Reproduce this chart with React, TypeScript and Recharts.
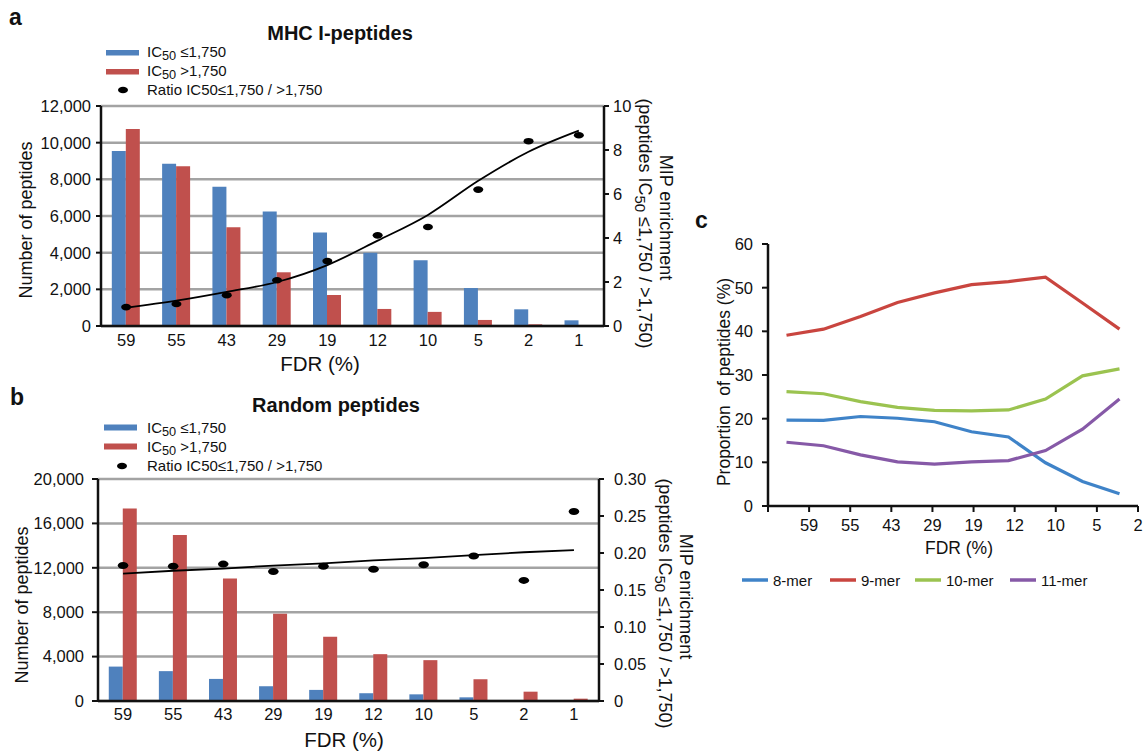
import React from 'react';
import { ComposedChart, LineChart, Bar, Line, XAxis, YAxis, CartesianGrid } from 'recharts';

// ---------- data ----------
const fdrLabels = ['59', '55', '43', '29', '19', '12', '10', '5', '2', '1'];
const edgeTicks = [0, 1, 2, 3, 4, 5, 6, 7, 8, 9, 10];

// panel a: MHC I-peptides
const mhcLow = [9550, 8850, 7600, 6250, 5100, 4000, 3580, 2070, 910, 310];
const mhcHigh = [10750, 8710, 5380, 2930, 1690, 930, 770, 330, 90, 20];
const mhcRatio = [0.86, 1.0, 1.4, 2.08, 2.95, 4.12, 4.5, 6.2, 8.4, 8.67];
const mhcTrend = [0.83, 1.15, 1.55, 2.0, 2.77, 3.88, 5.05, 6.6, 7.92, 8.88];
const mhcLeftTicks = [0, 2000, 4000, 6000, 8000, 10000, 12000];
const mhcRightTicks = [0, 2, 4, 6, 8, 10];

// panel b: Random peptides
const randLow = [3100, 2690, 1990, 1330, 1000, 700, 600, 330, 80, 30];
const randHigh = [17350, 14960, 11040, 7870, 5790, 4220, 3680, 1960, 840, 210];
const randRatio = [0.183, 0.182, 0.185, 0.175, 0.182, 0.178, 0.184, 0.196, 0.163, 0.256];
const randTrend = [0.172, 0.176, 0.179, 0.183, 0.186, 0.19, 0.193, 0.197, 0.201, 0.204];
const randLeftTicks = [0, 4000, 8000, 12000, 16000, 20000];
const randRightTicks = [0, 0.05, 0.1, 0.15, 0.2, 0.25, 0.3];

// panel c: peptide length proportions
const mer8 = [19.65, 19.6, 20.5, 20.1, 19.3, 17.0, 15.8, 9.9, 5.6, 2.8];
const mer9 = [39.1, 40.5, 43.4, 46.6, 48.8, 50.7, 51.4, 52.4, 46.5, 40.5];
const mer10 = [26.2, 25.7, 23.9, 22.6, 21.9, 21.8, 22.0, 24.5, 29.8, 31.4];
const mer11 = [14.6, 13.8, 11.7, 10.1, 9.6, 10.1, 10.4, 12.7, 17.6, 24.5];
const propTicks = [0, 10, 20, 30, 40, 50, 60];

const dataA = fdrLabels.map((f, i) => ({ fdr: f, low: mhcLow[i], high: mhcHigh[i], ratio: mhcRatio[i], trend: mhcTrend[i] }));
const dataB = fdrLabels.map((f, i) => ({ fdr: f, low: randLow[i], high: randHigh[i], ratio: randRatio[i], trend: randTrend[i] }));
const dataC = fdrLabels.map((f, i) => ({ fdr: f, m8: mer8[i], m9: mer9[i], m10: mer10[i], m11: mer11[i] }));

// ---------- styles ----------
const FONT = '"Liberation Sans", Arial, Helvetica, sans-serif';
const BLUE = '#4F81BD';
const RED = '#C0504D';
const C8 = '#3F83C8';
const C9 = '#C9453F';
const C10 = '#9BC350';
const C11 = '#8659A7';
const AXIS = '#111';
const GRID = '#a3a3a3';
const tickStyle = { fontSize: 16.5, fill: '#111', fontFamily: FONT };
const axisLine = { stroke: AXIS, strokeWidth: 2.5 };
const tickLine = { stroke: AXIS, strokeWidth: 2 };

const fmtThousands = (v: number) => v.toLocaleString('en-US');
const fmtRatio = (v: number) => (v === 0 ? '0' : v.toFixed(2));

const makeDot = (rx: number, ry: number) => (p: any) => {
  if (p.cx == null || p.cy == null) return <g key={`e${p.index}`} />;
  return <ellipse key={`d${p.index}`} cx={p.cx} cy={p.cy} rx={rx} ry={ry} fill="#000" />;
};

type BarPanelProps = {
  data: any[];
  top: number;
  height: number;
  margin: { top: number; right: number; bottom: number; left: number };
  leftDomain: number[];
  leftTicks: number[];
  rightDomain: number[];
  rightTicks: number[];
  rightFmt: (v: number) => string;
  leftTickSize: number;
  leftTickMargin: number;
  rightTickSize: number;
  rightTickMargin: number;
  trendType: 'monotone' | 'linear';
  dotRx: number;
  dotRy: number;
  xTickMargin: number;
};

function BarPanel(p: BarPanelProps) {
  return (
    <div style={{ position: 'absolute', left: 0, top: p.top }}>
      <ComposedChart
        width={700}
        height={p.height}
        data={p.data}
        margin={p.margin}
        barCategoryGap="21.5%"
        barGap={0}
        style={{ fontFamily: FONT }}
      >
        <CartesianGrid yAxisId="left" vertical={false} stroke={GRID} strokeWidth={2.5} />
        <XAxis
          xAxisId="edges"
          type="number"
          domain={[0, 10]}
          ticks={edgeTicks}
          allowDataOverflow
          tick={false}
          axisLine={false}
          tickLine={tickLine}
          tickSize={4}
          height={0}
        />
        <XAxis
          dataKey="fdr"
          interval={0}
          tick={tickStyle}
          tickLine={false}
          tickSize={0}
          tickMargin={p.xTickMargin}
          axisLine={axisLine}
          height={1}
        />
        <YAxis
          yAxisId="left"
          domain={p.leftDomain}
          ticks={p.leftTicks}
          tickFormatter={fmtThousands}
          tick={tickStyle}
          tickSize={p.leftTickSize}
          tickMargin={p.leftTickMargin}
          axisLine={axisLine}
          tickLine={tickLine}
          width={55}
          interval={0}
        />
        <YAxis
          yAxisId="right"
          orientation="right"
          domain={p.rightDomain}
          ticks={p.rightTicks}
          tickFormatter={p.rightFmt}
          tick={tickStyle}
          tickSize={p.rightTickSize}
          tickMargin={p.rightTickMargin}
          axisLine={axisLine}
          tickLine={tickLine}
          width={50}
          interval={0}
        />
        <Bar yAxisId="left" dataKey="low" fill={BLUE} isAnimationActive={false} />
        <Bar yAxisId="left" dataKey="high" fill={RED} isAnimationActive={false} />
        <Line
          yAxisId="right"
          dataKey="trend"
          type={p.trendType}
          stroke="#000"
          strokeWidth={1.8}
          dot={false}
          activeDot={false}
          isAnimationActive={false}
        />
        <Line
          yAxisId="right"
          dataKey="ratio"
          stroke="none"
          dot={makeDot(p.dotRx, p.dotRy)}
          activeDot={false}
          isAnimationActive={false}
        />
      </ComposedChart>
    </div>
  );
}

function PanelC() {
  return (
    <div style={{ position: 'absolute', left: 700, top: 200 }}>
      <LineChart
        width={445}
        height={400}
        data={dataC}
        margin={{ top: 44, right: 7, bottom: 93, left: 8 }}
        style={{ fontFamily: FONT }}
      >
        <XAxis dataKey="fdr" hide height={0} padding={{ left: 18.5, right: 18.5 }} />
        <XAxis
          xAxisId="lab"
          type="number"
          domain={[0, 10]}
          ticks={edgeTicks}
          allowDataOverflow
          interval={0}
          tickFormatter={(i: number) => (i === 0 ? '' : fdrLabels[i - 1])}
          tick={tickStyle}
          tickSize={6}
          tickMargin={7}
          axisLine={axisLine}
          tickLine={tickLine}
          height={1}
        />
        <YAxis
          domain={[0, 60]}
          ticks={propTicks}
          interval={0}
          tick={tickStyle}
          tickSize={6}
          tickMargin={9}
          axisLine={axisLine}
          tickLine={tickLine}
          width={60}
        />
        <Line dataKey="m8" type="linear" stroke={C8} strokeWidth={3.2} dot={false} activeDot={false} isAnimationActive={false} />
        <Line dataKey="m9" type="linear" stroke={C9} strokeWidth={3.2} dot={false} activeDot={false} isAnimationActive={false} />
        <Line dataKey="m10" type="linear" stroke={C10} strokeWidth={3.2} dot={false} activeDot={false} isAnimationActive={false} />
        <Line dataKey="m11" type="linear" stroke={C11} strokeWidth={3.2} dot={false} activeDot={false} isAnimationActive={false} />
      </LineChart>
    </div>
  );
}

function IC50({ x, y, rest, size = 15 }: { x: number; y: number; rest: string; size?: number }) {
  return (
    <text x={x} y={y} fontSize={size} fill="#111">
      IC<tspan fontSize={size * 0.85} dy={3}>50</tspan>
      <tspan dy={-3}>{rest}</tspan>
    </text>
  );
}

function Overlay() {
  const legC = [
    { name: '8-mer', color: C8, x: 742 },
    { name: '9-mer', color: C9, x: 830 },
    { name: '10-mer', color: C10, x: 915 },
    { name: '11-mer', color: C11, x: 1010 },
  ];
  const legY = 580;
  return (
    <svg
      width={1145}
      height={753}
      style={{ position: 'absolute', left: 0, top: 0, pointerEvents: 'none', fontFamily: FONT }}
    >
      {/* panel letters */}
      <text x={9} y={25} fontSize={23} fontWeight="bold" fill="#111">a</text>
      <text x={10} y={405} fontSize={23} fontWeight="bold" fill="#111">b</text>
      <text x={695} y={228} fontSize={23} fontWeight="bold" fill="#111">c</text>

      {/* titles */}
      <text x={340} y={40} fontSize={20} fontWeight="bold" textAnchor="middle" fill="#111">MHC I-peptides</text>
      <text x={336} y={412} fontSize={20} fontWeight="bold" textAnchor="middle" fill="#111">Random peptides</text>

      {/* legend a */}
      <rect x={106} y={50} width={33} height={5.5} fill={BLUE} />
      <IC50 x={147} y={57} rest=" ≤1,750" />
      <rect x={106} y={69} width={33} height={5.5} fill={RED} />
      <IC50 x={147} y={76} rest=" >1,750" />
      <ellipse cx={123} cy={90} rx={5} ry={3.3} fill="#000" />
      <text x={147} y={95} fontSize={15} fill="#111">Ratio IC50≤1,750 / &gt;1,750</text>

      {/* legend b */}
      <rect x={104} y={424.5} width={33} height={6} fill={BLUE} />
      <IC50 x={147} y={433} rest=" ≤1,750" />
      <rect x={104} y={443.5} width={33} height={6} fill={RED} />
      <IC50 x={147} y={452} rest=" >1,750" />
      <ellipse cx={122} cy={466} rx={5} ry={3.3} fill="#000" />
      <text x={147} y={471} fontSize={15} fill="#111">Ratio IC50≤1,750 / &gt;1,750</text>

      {/* axis titles a */}
      <text x={26} y={220} fontSize={18} textAnchor="middle" dominantBaseline="central" transform="rotate(-90 26 220)" fill="#111">Number of peptides</text>
      <text x={320} y={371} fontSize={20.5} textAnchor="middle" fill="#111">FDR (%)</text>
      <text x={665.5} y={217.5} fontSize={18} textAnchor="middle" dominantBaseline="central" transform="rotate(90 665.5 217.5)" fill="#111">MIP enrichment</text>
      <text x={644.5} y={223.5} fontSize={18} textAnchor="middle" dominantBaseline="central" transform="rotate(90 644.5 223.5)" fill="#111">
        (peptides IC<tspan fontSize={15} dy={4}>50</tspan><tspan dy={-4}> ≤1,750 / &gt;1,750)</tspan>
      </text>

      {/* axis titles b */}
      <text x={22} y={605} fontSize={18} textAnchor="middle" dominantBaseline="central" transform="rotate(-90 22 605)" fill="#111">Number of peptides</text>
      <text x={344} y={747} fontSize={20.5} textAnchor="middle" fill="#111">FDR (%)</text>
      <text x={686} y={596.5} fontSize={18} textAnchor="middle" dominantBaseline="central" transform="rotate(90 686 596.5)" fill="#111">MIP enrichment</text>
      <text x={664.5} y={603.5} fontSize={18} textAnchor="middle" dominantBaseline="central" transform="rotate(90 664.5 603.5)" fill="#111">
        (peptides IC<tspan fontSize={15} dy={4}>50</tspan><tspan dy={-4}> ≤1,750 / &gt;1,750)</tspan>
      </text>

      {/* axis titles c */}
      <text x={723.5} y={382} fontSize={17.5} textAnchor="middle" dominantBaseline="central" transform="rotate(-90 723.5 382)" fill="#111" style={{ whiteSpace: 'pre' }}>Proportion  of peptides (%)</text>
      <text x={959} y={554} fontSize={17.5} textAnchor="middle" fill="#111">FDR (%)</text>

      {/* legend c */}
      {legC.map((l) => (
        <g key={l.name}>
          <line x1={l.x} x2={l.x + 26} y1={legY} y2={legY} stroke={l.color} strokeWidth={3.5} />
          <text x={l.x + 31} y={legY} fontSize={15} dominantBaseline="central" fill="#111">{l.name}</text>
        </g>
      ))}
    </svg>
  );
}

export default function App() {
  return (
    <div style={{ position: 'absolute', left: 0, top: 0, width: 1145, height: 753, background: '#fff', fontFamily: FONT }}>
      <BarPanel
        data={dataA}
        top={0}
        height={380}
        margin={{ top: 106, right: 46, bottom: 53, left: 46 }}
        leftDomain={[0, 12000]}
        leftTicks={mhcLeftTicks}
        rightDomain={[0, 10]}
        rightTicks={mhcRightTicks}
        rightFmt={(v: number) => String(v)}
        leftTickSize={5}
        leftTickMargin={5}
        rightTickSize={5}
        rightTickMargin={4}
        trendType="monotone"
        dotRx={5}
        dotRy={3.3}
        xTickMargin={8}
      />
      <BarPanel
        data={dataB}
        top={380}
        height={373}
        margin={{ top: 99, right: 51, bottom: 51, left: 43 }}
        leftDomain={[0, 20000]}
        leftTicks={randLeftTicks}
        rightDomain={[0, 0.3]}
        rightTicks={randRightTicks}
        rightFmt={fmtRatio}
        leftTickSize={6}
        leftTickMargin={8}
        rightTickSize={5}
        rightTickMargin={10}
        trendType="linear"
        dotRx={5.3}
        dotRy={3.5}
        xTickMargin={7}
      />
      <PanelC />
      <Overlay />
    </div>
  );
}
